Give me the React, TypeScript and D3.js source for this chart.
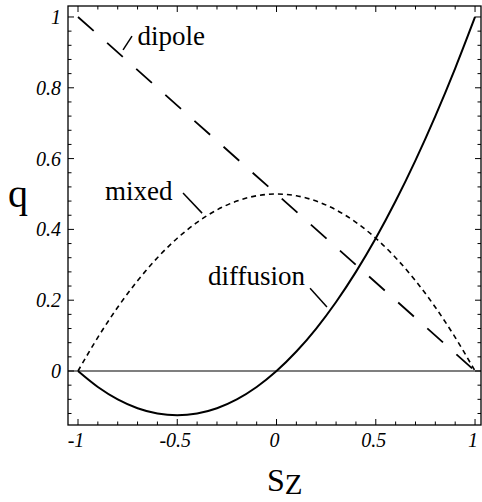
import React from "react";
import * as d3 from "d3";

// values
const sValues = [-1, -0.9, -0.8, -0.7, -0.6, -0.5, -0.4, -0.3, -0.2, -0.1, 0, 0.1, 0.2, 0.3, 0.4, 0.5, 0.6, 0.7, 0.8, 0.9, 1];
const mixedQ = [0, 0.095, 0.18, 0.255, 0.32, 0.375, 0.42, 0.455, 0.48, 0.495, 0.5, 0.495, 0.48, 0.455, 0.42, 0.375, 0.32, 0.255, 0.18, 0.095, 0];
const diffusionQ = [0, -0.045, -0.08, -0.105, -0.12, -0.125, -0.12, -0.105, -0.08, -0.045, 0, 0.055, 0.12, 0.195, 0.28, 0.375, 0.48, 0.595, 0.72, 0.855, 1];
const dipoleS = [-1, 1];
const dipoleQ = [1, 0];

const xTicks = [-1, -0.5, 0, 0.5, 1];
const xTickLabels = ["-1", "-0.5", "0", "0.5", "1"];
const yTicks = [0, 0.2, 0.4, 0.6, 0.8, 1];
const yTickLabels = ["0", "0.2", "0.4", "0.6", "0.8", "1"];

// curve labels with leader lines, in data units
const labelNames = ["dipole", "mixed", "diffusion"];
const labelAt = [[-0.7, 0.921], [-0.864, 0.483], [0.143, 0.243]];
const labelAnchor = ["start", "start", "end"];
const leaderFrom = [[-0.773, 0.907], [-0.471, 0.503], [0.169, 0.234]];
const leaderTo = [[-0.728, 0.946], [-0.375, 0.446], [0.254, 0.181]];

const W = 482;
const H = 502;
const frame = { left: 68, top: 6, right: 481, bottom: 425 };

export default function App() {
  const x = d3.scaleLinear().domain([-1.0504, 1.030]).range([frame.left, frame.right]);
  const y = d3.scaleLinear().domain([-0.1525, 1.031]).range([frame.bottom, frame.top]);

  const line = d3
    .line<[number, number]>()
    .x((d) => x(d[0]))
    .y((d) => y(d[1]))
    .curve(d3.curveCatmullRom);

  const mixed = sValues.map((s, i) => [s, mixedQ[i]] as [number, number]);
  const diffusion = sValues.map((s, i) => [s, diffusionQ[i]] as [number, number]);
  const dipole = dipoleS.map((s, i) => [s, dipoleQ[i]] as [number, number]);

  const xMinor = d3.range(-10, 11).map((k) => k / 10);
  const yMinor = d3.range(-3, 26).map((k) => k * 0.04).filter((v) => v >= -0.15 && v <= 1.03);

  const serif = "'Liberation Serif', 'Times New Roman', 'DejaVu Serif', serif";

  return (
    <svg width={W} height={H} style={{ position: "absolute", left: 0, top: 0, background: "#fff" }}>
      <rect x={0} y={0} width={W} height={H} fill="#fff" />

      {/* zero line */}
      <line x1={frame.left} x2={frame.right} y1={y(0)} y2={y(0)} stroke="#000" strokeWidth={1.1} />

      {/* frame */}
      <rect
        x={frame.left}
        y={frame.top}
        width={frame.right - frame.left}
        height={frame.bottom - frame.top}
        fill="none"
        stroke="#000"
        strokeWidth={1.3}
      />

      {/* x ticks, bottom and top */}
      {xMinor.map((v) => {
        const major = xTicks.some((t) => Math.abs(t - v) < 1e-9);
        const len = major ? 6 : 3.5;
        return (
          <g key={"xt" + v}>
            <line x1={x(v)} x2={x(v)} y1={frame.bottom} y2={frame.bottom - len} stroke="#000" strokeWidth={1} />
            <line x1={x(v)} x2={x(v)} y1={frame.top} y2={frame.top + len} stroke="#000" strokeWidth={1} />
          </g>
        );
      })}
      {/* y ticks, left and right */}
      {yMinor.map((v) => {
        const major = yTicks.some((t) => Math.abs(t - v) < 1e-9);
        const len = major ? 6 : 3.5;
        return (
          <g key={"yt" + v}>
            <line x1={frame.left} x2={frame.left + len} y1={y(v)} y2={y(v)} stroke="#000" strokeWidth={1} />
            <line x1={frame.right} x2={frame.right - len} y1={y(v)} y2={y(v)} stroke="#000" strokeWidth={1} />
          </g>
        );
      })}

      {/* tick labels */}
      {xTicks.map((v, i) => (
        <text
          key={"xl" + v}
          x={x(v) - 2}
          y={447}
          textAnchor="middle"
          fontFamily={serif}
          fontStyle="italic"
          fontSize={20}
        >
          {xTickLabels[i]}
        </text>
      ))}
      {yTicks.map((v, i) => (
        <text
          key={"yl" + v}
          x={61}
          y={y(v) + 7}
          textAnchor="end"
          fontFamily={serif}
          fontStyle="italic"
          fontSize={20}
        >
          {yTickLabels[i]}
        </text>
      ))}

      {/* curves */}
      <path d={line(dipole) ?? ""} fill="none" stroke="#000" strokeWidth={1.8} strokeDasharray="21 18" />
      <path d={line(mixed) ?? ""} fill="none" stroke="#000" strokeWidth={1.6} strokeDasharray="5 4" />
      <path d={line(diffusion) ?? ""} fill="none" stroke="#000" strokeWidth={2} />

      {/* curve labels */}
      {labelNames.map((name, i) => (
        <g key={name}>
          <line
            x1={x(leaderFrom[i][0])}
            y1={y(leaderFrom[i][1])}
            x2={x(leaderTo[i][0])}
            y2={y(leaderTo[i][1])}
            stroke="#000"
            strokeWidth={1.5}
          />
          <text
            x={x(labelAt[i][0])}
            y={y(labelAt[i][1])}
            textAnchor={labelAnchor[i]}
            fontFamily={serif}
            fontSize={27}
          >
            {name}
          </text>
        </g>
      ))}

      {/* axis titles */}
      <text x={8} y={207} fontFamily={serif} fontSize={40}>
        q
      </text>
      <text x={267} y={491} fontFamily={serif} fontSize={32}>
        S
        <tspan dy={3} fontSize={29}>
          Z
        </tspan>
      </text>
    </svg>
  );
}
